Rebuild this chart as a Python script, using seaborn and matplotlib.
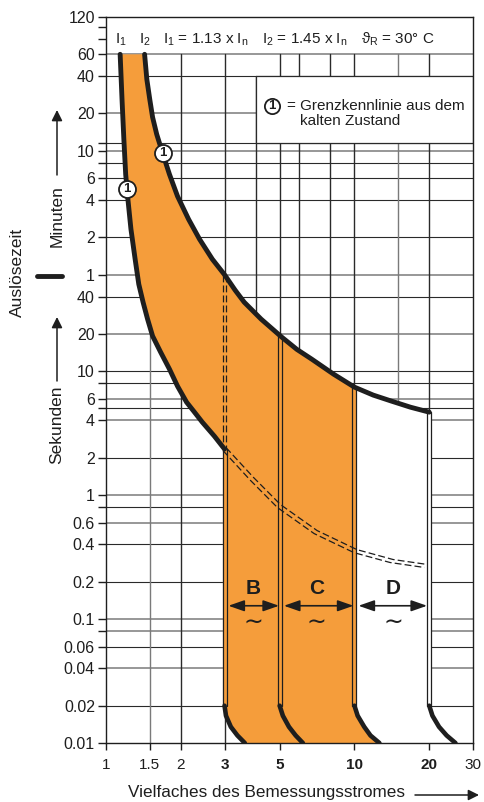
import matplotlib
matplotlib.use("Agg")
import matplotlib.pyplot as plt
import seaborn as sns
from matplotlib.transforms import offset_copy
from matplotlib.ticker import NullLocator
from matplotlib.patches import Rectangle
from matplotlib.lines import Line2D

# ---------------- data ----------------
# upper limit curve (I2 side): multiple of rated current, tripping time [s]
upper_x = [1.43, 1.46, 1.50, 1.54, 1.60, 1.69, 1.80, 1.94, 2.15, 2.38, 2.68, 3.00,
           3.31, 3.60, 4.21, 5.10, 5.86, 6.73, 8.24, 10.0, 11.9, 14.1, 16.8, 20.0]
upper_t = [3600, 2264, 1562, 1118, 815, 573, 388, 258, 168, 116, 80, 60,
           45, 36, 26.3, 18.8, 15.0, 12.5, 9.46, 7.43, 6.41, 5.73, 5.12, 4.67]
# lower limit curve (I1 side)
lower_x = [1.14, 1.16, 1.18, 1.20, 1.225, 1.26, 1.31, 1.355, 1.41, 1.47, 1.54,
           1.66, 1.80, 1.94, 2.11, 2.27, 2.44, 2.73, 3.00]
lower_t = [3600, 1562, 743, 388, 244, 140, 80, 50.3, 36, 26.3, 19.2,
           14.2, 10.4, 7.57, 5.62, 4.67, 3.88, 2.99, 2.35]
# dashed continuation of the lower curve
dash_x = [3.00, 3.87, 4.97, 6.98, 10.1, 14.1, 19.4]
dash_t = [2.35, 1.35, 0.815, 0.503, 0.353, 0.294, 0.268]
# dashed knee line at 3 x In
knee_x = [3.0, 3.0]
knee_t = [60, 2.35]
# characteristic boundaries B / C / D
class_x = [3, 5, 10, 20]
class_top = [2.35, 19.2, 7.43, 4.67]
class_bottom = 0.02
# instantaneous tripping bends at the bottom
bend_t = [0.02, 0.0166, 0.0135, 0.0115, 0.01]
bend3_x = [3.00, 3.04, 3.18, 3.38, 3.62]
bend5_x = [5.00, 5.15, 5.45, 5.80, 6.20]
bend10_x = [10.0, 10.3, 10.95, 11.6, 12.6]
bend20_x = [20.0, 20.6, 21.9, 23.5, 25.5]
# circled "1" markers (cold-state limit curve)
mark_x = [1.69, 1.213]
mark_t = [573, 294]
# zone labels
zone_names = ["B", "C", "D"]
zone_from = [3.11, 5.20, 10.38]
zone_to = [4.97, 9.91, 19.6]
zone_mid = [3.91, 7.05, 14.3]

# axes / ticks
xtick_vals = [1, 1.5, 2, 3, 5, 10, 20, 30]
xtick_labels = ["1", "1.5", "2", "3", "5", "10", "20", "30"]
xtick_bold = [False, False, False, True, True, True, True, False]
ytick_vals = [7200, 6000, 4800, 3600, 2400, 1200, 690, 600, 480, 360, 240, 120, 60,
              40, 20, 10, 8, 6, 5, 4, 2, 1, 0.8, 0.6, 0.4, 0.2, 0.1, 0.08, 0.06,
              0.04, 0.02, 0.01]
ytick_labels = ["120", "", "", "60", "40", "20", "", "10", "", "6", "4", "2", "1",
                "40", "20", "10", "", "6", "", "4", "2", "1", "", "0.6", "0.4",
                "0.2", "0.1", "", "0.06", "0.04", "0.02", "0.01"]
h_grid = [3600, 2400, 1200, 690, 600, 480, 360, 240, 120, 60, 40, 20, 10, 8, 6, 5,
          4, 2, 1, 0.8, 0.6, 0.4, 0.2, 0.1, 0.08, 0.06, 0.04, 0.02]
h_grid_dark = [False, True, False, True, False, True, True, True, True, False, True,
               False, True, True, False, True, False, True, False, True, False,
               True, True, False, False, True, False, True]
v_grid = [1.5, 2, 3, 4, 5, 6, 8, 10, 15, 20]
v_grid_top = [20, 3600, 3600, 2400, 3600, 3600, 3600, 3600, 3600, 3600]

# ---------------- style ----------------
ORANGE = "#F59D3B"
INK = "#1e1e1e"
GRID_DARK = "#2a2a2a"
GRID_LIGHT = "#7a7a7a"

sns.set_theme(style="white")
plt.rcParams["font.family"] = ["Liberation Sans", "DejaVu Sans"]
plt.rcParams["mathtext.default"] = "regular"
plt.rcParams["text.color"] = INK

fig = plt.figure(figsize=(4.84, 8.02), dpi=100)
W, H = 484, 802
ax = fig.add_axes([106 / W, 1 - 743 / H, 367 / W, 726 / H])
ax.set_xscale("log")
ax.set_yscale("log")
ax.set_xlim(1, 30)
ax.set_ylim(0.01, 7200)
ax.set_autoscale_on(False)

# grid
for v, dk in zip(h_grid, h_grid_dark):
    ax.axhline(v, color=GRID_DARK if dk else GRID_LIGHT, lw=0.8 if dk else 1.1,
               zorder=0.5)
for v, top in zip(v_grid, v_grid_top):
    ax.plot([v, v], [0.01, top], color=GRID_LIGHT if v in (1.5, 15) else GRID_DARK,
            lw=1.0, zorder=0.5)

# legend box
ax.add_patch(Rectangle((4, 690), 26, 2400 - 690, facecolor="white",
                       edgecolor=GRID_DARK, lw=0.9, zorder=1))

# filled band (orange) and D zone (white)
i10 = upper_x.index(10.0)
poly_x = upper_x[:i10 + 1] + bend10_x + bend3_x[::-1] + lower_x[::-1]
poly_t = upper_t[:i10 + 1] + bend_t + bend_t[::-1] + lower_t[::-1]
ax.fill(poly_x, poly_t, color=ORANGE, lw=0, zorder=1)
d_x = upper_x[i10:] + bend20_x + bend10_x[::-1]
d_t = upper_t[i10:] + bend_t + bend_t[::-1]
ax.fill(d_x, d_t, color="white", lw=0, zorder=1)

# double boundary lines
off_l = offset_copy(ax.transData, fig=fig, x=-2, y=0, units="dots")
off_r = offset_copy(ax.transData, fig=fig, x=2, y=0, units="dots")
strip_cols = [ORANGE, ORANGE, ORANGE, "white"]
for cx, top, sc in zip(class_x, class_top, strip_cols):
    ax.plot([cx, cx], [top, class_bottom], color=sc, lw=3.0,
            solid_capstyle="butt", zorder=1.5)
    for tr in (off_l, off_r):
        ax.plot([cx, cx], [top, class_bottom], color=INK, lw=0.9,
                transform=tr, zorder=2)

# dashed double lines
for d in (-1.6, 1.6):
    tr = offset_copy(ax.transData, fig=fig, x=d, y=0, units="dots")
    ax.plot(knee_x, knee_t, color=INK, lw=0.9, ls=(0, (5.5, 2.5)),
            transform=tr, zorder=2)
for d in (-1.5, 1.5):
    tr = offset_copy(ax.transData, fig=fig, x=d, y=d, units="dots")
    ax.plot(dash_x, dash_t, color=INK, lw=0.9, ls=(0, (5.5, 2.5)),
            transform=tr, zorder=2)

# thick curves
sns.lineplot(x=upper_x, y=upper_t, sort=False, estimator=None, color=INK,
             lw=3.5, ax=ax, zorder=3, legend=False)
sns.lineplot(x=lower_x, y=lower_t, sort=False, estimator=None, color=INK,
             lw=3.5, ax=ax, zorder=3, legend=False)
for bx in (bend3_x, bend5_x, bend10_x, bend20_x):
    sns.lineplot(x=bx, y=bend_t, sort=False, estimator=None, color=INK,
                 lw=3.3, ax=ax, zorder=3, legend=False)

# circled markers
ax.scatter(mark_x, mark_t, s=150, facecolor="white", edgecolor=INK, lw=1.3, zorder=5)
for mx, mt in zip(mark_x, mark_t):
    ax.text(mx, mt, "1", ha="center", va="center", fontsize=9.5,
            fontweight="bold", zorder=6)

# zone labels
for name, a, b, m in zip(zone_names, zone_from, zone_to, zone_mid):
    ax.annotate("", xy=(a, 0.128), xytext=(b, 0.128),
                arrowprops=dict(arrowstyle="<|-|>,head_length=0.8,head_width=0.28",
                                color=INK, lw=1.2, mutation_scale=12,
                                shrinkA=0, shrinkB=0),
                zorder=5)
    ax.text(m, 0.177, name, ha="center", va="center", fontsize=15,
            fontweight="bold", zorder=5)
    ax.text(m, 0.094, "∼", ha="center", va="center", fontsize=17,
            family=["DejaVu Sans"], zorder=5)

# header text
ht = 4755
ax.text(1.086, ht, "I$_1$", fontsize=11, va="center")
ax.text(1.355, ht, "I$_2$", fontsize=11, va="center")
ax.text(1.69, ht, "I$_1$ = 1.13 x I$_n$", fontsize=11, va="center")
ax.text(4.25, ht, "I$_2$ = 1.45 x I$_n$", fontsize=11, va="center")
ax.text(10.59, ht, "ϑ$_R$ = 30° C", fontsize=11, va="center")

# legend content
ax.scatter([4.67], [1379], s=120, facecolor="white", edgecolor=INK, lw=1.3, zorder=5)
ax.text(4.67, 1379, "1", ha="center", va="center", fontsize=9.5,
        fontweight="bold", zorder=6)
ax.text(5.36, 1379, "= Grenzkennlinie aus dem", fontsize=11, va="center", zorder=6)
ax.text(6.03, 1044, "kalten Zustand", fontsize=11, va="center", zorder=6)

# ticks
ax.set_yticks(ytick_vals, ytick_labels)
ax.set_xticks(xtick_vals, xtick_labels)
ax.yaxis.set_minor_locator(NullLocator())
ax.xaxis.set_minor_locator(NullLocator())
for lab, b in zip(ax.get_xticklabels(), xtick_bold):
    lab.set_fontweight("bold" if b else "normal")
ax.tick_params(axis="y", left=True, direction="out", length=6, width=1,
               pad=2, labelsize=11.5, color=INK, labelcolor=INK)
ax.tick_params(axis="x", bottom=True, direction="out", length=5, width=1,
               pad=6, labelsize=11, color=INK, labelcolor=INK)
for s in ax.spines.values():
    s.set_visible(True)
    s.set_color(INK)
    s.set_linewidth(1.0)
    s.set_zorder(4)
ax.grid(False)

# outer labels
fig.text(17 / W, 1 - 272 / H, "Auslösezeit", rotation=90, ha="center",
         va="center", fontsize=12.5)
fig.text(57 / W, 1 - 216 / H, "Minuten", rotation=90, ha="center",
         va="center", fontsize=12.5)
fig.text(57 / W, 1 - 425 / H, "Sekunden", rotation=90, ha="center",
         va="center", fontsize=12.5)
fig.add_artist(Line2D([37 / W, 62 / W], [1 - 276 / H, 1 - 276 / H],
                      transform=fig.transFigure, lw=3.5, color=INK))
ax.annotate("", xy=(57, H - 110), xytext=(57, H - 175), xycoords="figure pixels",
            textcoords="figure pixels",
            arrowprops=dict(arrowstyle="-|>", color=INK, lw=1.1,
                            mutation_scale=16, shrinkA=0, shrinkB=0))
ax.annotate("", xy=(57, H - 317), xytext=(57, H - 381), xycoords="figure pixels",
            textcoords="figure pixels",
            arrowprops=dict(arrowstyle="-|>", color=INK, lw=1.1,
                            mutation_scale=16, shrinkA=0, shrinkB=0))
fig.text(128 / W, 1 - 793 / H, "Vielfaches des Bemessungsstromes", ha="left",
         va="center", fontsize=12.3)
ax.annotate("", xy=(479, H - 795), xytext=(415, H - 795), xycoords="figure pixels",
            textcoords="figure pixels",
            arrowprops=dict(arrowstyle="-|>", color=INK, lw=1.1,
                            mutation_scale=16, shrinkA=0, shrinkB=0))

fig.savefig("out.png", dpi=100)
